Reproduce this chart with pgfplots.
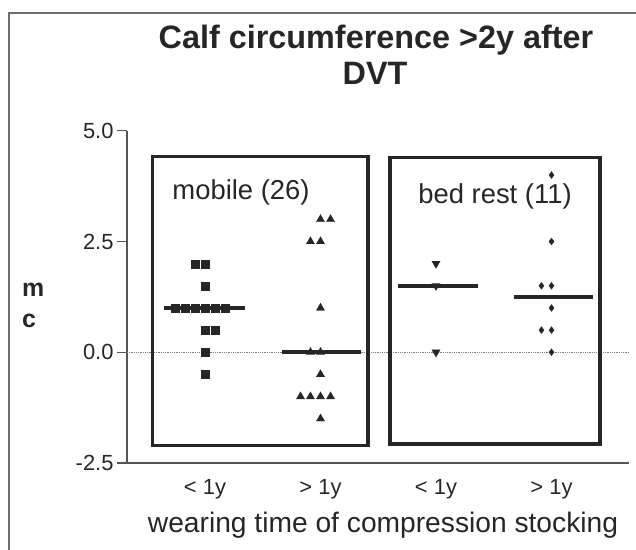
\documentclass[border=0pt]{standalone}
\usepackage{fontspec}
\setmainfont{Liberation Sans}
\usepackage{pgfplots}
\pgfplotsset{compat=1.18}
\definecolor{ink}{HTML}{262626}
\definecolor{axg}{HTML}{555555}
\definecolor{frameg}{HTML}{6E6E6E}
\begin{document}
\begin{tikzpicture}
\useasboundingbox (0,0) rectangle (636bp,550bp);
\draw[frameg, line width=1.4bp] (9bp,0) -- (9bp,537bp) -- (636bp,537bp);
\begin{axis}[
 at={(127bp,87bp)}, anchor=south west,
 scale only axis, width=502bp, height=332.3bp,
 xmin=0.3247, xmax=4.671, ymin=-2.5, ymax=5.0,
 axis x line=bottom, axis y line=left,
 axis line style={-, axg, line width=1.3bp},
 ytick={-2.5,0,2.5,5}, xtick={1,2,3,4},
 xticklabels={< 1y, > 1y, < 1y, > 1y},
 tick align=outside, major tick length=10bp,
 ytick style={axg, line width=1.3bp},
 xtick style={draw=none},
 /pgf/number format/assume math mode=true,
 yticklabel style={/pgf/number format/fixed, /pgf/number format/fixed zerofill, /pgf/number format/precision=1},
 tick label style={font=\fontsize{22}{26}\selectfont, text=ink},
 xticklabel style={anchor=base, yshift=-22bp},
 clip=false,
]
\addplot[gray, densely dotted, line width=0.8bp] coordinates {(0.3247,0) (4.671,0)};
% group boxes
\addplot[ink, line width=3.2bp, line join=miter] coordinates {(0.547,-2.1) (2.411,-2.1) (2.411,4.41) (0.547,4.41)} -- cycle;
\addplot[ink, line width=3.2bp, line join=miter] coordinates {(2.602,-2.07) (4.420,-2.07) (4.420,4.39) (2.602,4.39)} -- cycle;
% medians
\addplot[ink, line width=4bp] coordinates {(0.645,1.0) (1.346,1.0)};
\addplot[ink, line width=4bp] coordinates {(1.667,0.0) (2.351,0.0)};
\addplot[ink, line width=4bp] coordinates {(2.671,1.5) (3.364,1.5)};
\addplot[ink, line width=4bp] coordinates {(3.671,1.25) (4.355,1.25)};
% mobile < 1y
\addplot[only marks, mark=square*, mark size=4bp, mark options={ink, line width=0.2bp}] coordinates {
(0.913,2.0) (1.0,2.0) (1.0,1.5)
(0.740,1.0) (0.827,1.0) (0.913,1.0) (1.0,1.0) (1.087,1.0) (1.173,1.0)
(1.0,0.5) (1.087,0.5) (1.0,0.0) (1.0,-0.5)};
% mobile > 1y
\addplot[only marks, mark=triangle*, mark size=4.8bp, mark options={ink, line width=0.2bp}] coordinates {
(2.0,3.0) (2.087,3.0) (1.913,2.5) (2.0,2.5) (2.0,1.0)
(1.913,0.0) (2.0,0.0) (2.0,-0.5)
(1.827,-1.0) (1.913,-1.0) (2.0,-1.0) (2.087,-1.0) (2.0,-1.5)};
% bed rest < 1y
\addplot[only marks, mark=triangle*, mark size=4.8bp, mark options={ink, line width=0.2bp, rotate=180}] coordinates {
(3.0,2.0) (3.0,1.5) (3.0,0.0)};
% bed rest > 1y
\addplot[only marks, mark=diamond*, mark size=3.5bp, mark options={ink, line width=0.2bp}] coordinates {
(4.0,4.0) (4.0,2.5) (3.913,1.5) (4.0,1.5) (4.0,1.0)
(3.913,0.5) (4.0,0.5) (4.0,0.0)};
\end{axis}
\node[anchor=base, font={\fontsize{32.5}{38}\selectfont\bfseries}, text=ink, inner sep=0] at (376bp,501.7bp) {Calf circumference >2y after};
\node[anchor=base, font={\fontsize{32.5}{38}\selectfont\bfseries}, text=ink, inner sep=0] at (375bp,465bp) {DVT};
\node[anchor=base, font={\fontsize{27.5}{32}\selectfont}, text=ink, inner sep=0] at (241bp,350bp) {mobile (26)};
\node[anchor=base, font={\fontsize{27.5}{32}\selectfont}, text=ink, inner sep=0] at (495bp,346.7bp) {bed rest (11)};
\node[anchor=base west, font={\fontsize{25}{30}\selectfont\bfseries}, text=ink, inner sep=0] at (22bp,253bp) {m};
\node[anchor=base west, font={\fontsize{25}{30}\selectfont\bfseries}, text=ink, inner sep=0] at (22bp,222bp) {c};
\node[anchor=base, font={\fontsize{28.3}{33}\selectfont}, text=ink, inner sep=0] at (383bp,18bp) {wearing time of compression stocking};
\end{tikzpicture}
\end{document}
